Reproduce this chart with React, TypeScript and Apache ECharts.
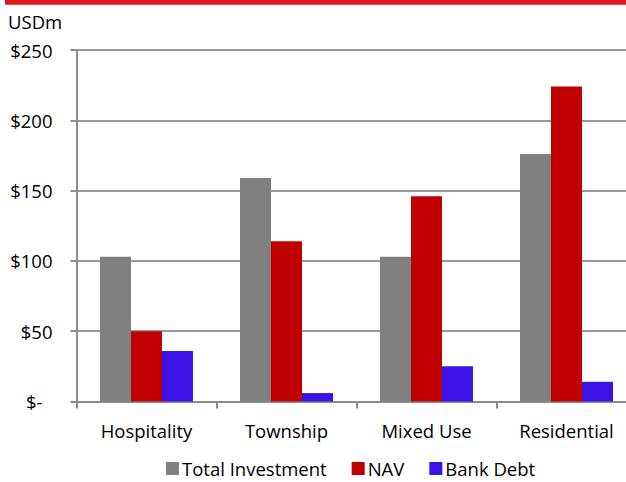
import React, { useEffect, useRef } from "react";
import * as echarts from "echarts";

const categories = ["Hospitality", "Township", "Mixed Use", "Residential"];
const totalInvestment = [103, 159, 103, 176];
const nav = [50, 114, 146, 224];
const bankDebt = [36, 6, 25, 14];
const seriesNames = ["Total Investment", "NAV", "Bank Debt"];
const yTicks = { min: 0, max: 250, interval: 50 };
const unitLabel = "USDm";

const FONT = "Open Sans";
const FS = 18.5;

export default function App() {
  const ref = useRef<HTMLDivElement>(null);
  useEffect(() => {
    if (!ref.current) return;
    const chart = echarts.init(ref.current, null, { renderer: "svg" });
    const common = {
      type: "bar" as const,
      barGap: "0%",
      barCategoryGap: "33.6%",
    };
    chart.setOption({
      animation: false,
      backgroundColor: "#ffffff",
      textStyle: { fontFamily: FONT },
      grid: {
        left: 76.5,
        top: 50,
        width: 560,
        height: 351.5,
        containLabel: false,
        outerBoundsMode: "none",
      },
      graphic: [
        { type: "rect", shape: { x: 5, y: 0, width: 630, height: 4.7 }, style: { fill: "#e0191f" } },
        {
          type: "text",
          x: 8,
          y: 21,
          style: { text: unitLabel, font: `${FS}px "${FONT}"`, fill: "#000", verticalAlign: "middle" },
        },
      ],
      legend: {
        left: 166,
        top: 459,
        padding: 0,
        icon: "rect",
        itemWidth: 13,
        itemHeight: 13,
        itemGap: 25,
        textStyle: { fontFamily: FONT, fontSize: FS, lineHeight: 18, color: "#000", padding: [0, 0, 0, -2] },
        data: seriesNames,
      },
      xAxis: {
        type: "category",
        data: categories,
        axisLine: { show: true, lineStyle: { color: "#8c8c8c", width: 2 } },
        axisTick: { show: true, alignWithLabel: false, length: 7, lineStyle: { color: "#8c8c8c", width: 2 } },
        axisLabel: { color: "#000", fontFamily: FONT, fontSize: FS, margin: 19 },
      },
      yAxis: {
        type: "value",
        min: yTicks.min,
        max: yTicks.max,
        interval: yTicks.interval,
        axisLine: { show: true, lineStyle: { color: "#8c8c8c", width: 2 } },
        axisTick: { show: true, length: 6, lineStyle: { color: "#8c8c8c", width: 2 } },
        splitLine: { show: true, lineStyle: { color: "#999999", width: 2 } },
        axisLabel: {
          color: "#000",
          fontFamily: FONT,
          fontSize: FS,
          margin: 24,
          formatter: (v: number) => (v === 0 ? "{z|$-}" : "$" + v),
          rich: { z: { fontFamily: FONT, fontSize: FS, color: "#000", padding: [0, 10, 0, 0] } },
        },
      },
      series: [
        { ...common, name: seriesNames[0], data: totalInvestment, itemStyle: { color: "#808080" } },
        { ...common, name: seriesNames[1], data: nav, itemStyle: { color: "#c00000" } },
        { ...common, name: seriesNames[2], data: bankDebt, itemStyle: { color: "#3c12e8" } },
      ],
    });
    return () => chart.dispose();
  }, []);
  return (
    <div
      ref={ref}
      style={{ position: "fixed", left: 0, top: 0, width: 626, height: 482, background: "#fff" }}
    />
  );
}
